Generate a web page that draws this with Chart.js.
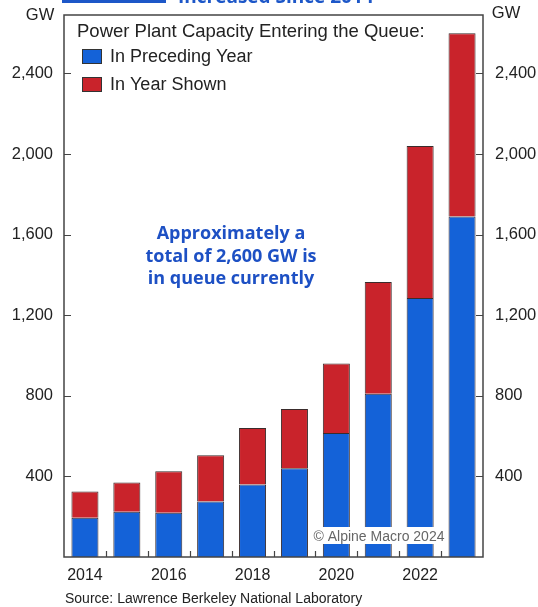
<!DOCTYPE html>
<html>
<head>
<meta charset="utf-8">
<script src="https://cdn.jsdelivr.net/npm/chart.js@4/dist/chart.umd.min.js"></script>
<style>
  html, body { margin: 0; padding: 0; background: #fff; }
  #wrap { position: relative; width: 538px; height: 607px; }
</style>
</head>
<body>
<div id="wrap"><canvas id="queue"></canvas></div>
<script>
// Power plant capacity in the interconnection queue, GW
const years = ['2014', '2015', '2016', '2017', '2018', '2019', '2020', '2021', '2022', '2023'];
const precedingYear = [195, 225, 220, 275, 360, 440, 615, 810, 1285, 1690];
const yearShown = [130, 145, 205, 230, 280, 295, 345, 555, 755, 910];
const gwTicks = [400, 800, 1200, 1600, 2000, 2400];

const c1 = '#1462d8';
const c2 = '#c9232b';
const ink = '#222';
const axisFont = { family: 'Liberation Sans, Arial, sans-serif', size: 16.5 };

// frame, inward tick marks, legend and notes drawn straight on the canvas
const extras = {
  id: 'extras',
  afterDatasetsDraw(chart) {
    const { ctx, chartArea: a, scales } = chart;
    const y = scales.y;
    const x = scales.x;
    ctx.save();

    // copyright tag sits on top of the bars
    ctx.fillStyle = '#fff';
    ctx.fillRect(312, a.bottom - 30, 134, 17);
    ctx.fillStyle = '#666';
    ctx.font = '14px Liberation Sans, Arial, sans-serif';
    ctx.textAlign = 'center';
    ctx.textBaseline = 'middle';
    ctx.fillText('\u00A9 Alpine Macro 2024', 379, a.bottom - 20);

    // plot frame
    ctx.strokeStyle = '#444';
    ctx.lineWidth = 1.5;
    ctx.strokeRect(a.left, a.top, a.right - a.left, a.bottom - a.top);

    // y ticks pointing into the plot on both sides
    ctx.lineWidth = 1.2;
    ctx.beginPath();
    gwTicks.forEach(v => {
      const py = Math.round(y.getPixelForValue(v)) + 0.5;
      ctx.moveTo(a.left, py); ctx.lineTo(a.left + 7, py);
      ctx.moveTo(a.right, py); ctx.lineTo(a.right - 7, py);
    });
    // x ticks between the bars
    for (let i = 1; i < years.length; i++) {
      const px = Math.round((x.getPixelForValue(i - 1) + x.getPixelForValue(i)) / 2) + 0.5;
      ctx.moveTo(px, a.bottom); ctx.lineTo(px, a.bottom - 6);
    }
    ctx.stroke();

    // legend
    ctx.textAlign = 'left';
    ctx.fillStyle = ink;
    ctx.font = '18.5px Liberation Sans, Arial, sans-serif';
    ctx.fillText('Power Plant Capacity Entering the Queue:', 77, 32);
    ctx.font = '18px Liberation Sans, Arial, sans-serif';
    const keys = [
      { label: 'In Preceding Year', color: c1, top: 49 },
      { label: 'In Year Shown', color: c2, top: 77 },
    ];
    keys.forEach(k => {
      ctx.fillStyle = k.color;
      ctx.fillRect(82, k.top, 20, 15);
      ctx.strokeStyle = '#333';
      ctx.lineWidth = 1;
      ctx.strokeRect(82.5, k.top + 0.5, 19, 14);
      ctx.fillStyle = ink;
      ctx.fillText(k.label, 110, k.top + 8);
    });

    // callout
    ctx.fillStyle = '#1d50c4';
    ctx.font = 'bold 18px Open Sans, sans-serif';
    ctx.textAlign = 'center';
    ['Approximately a', 'total of 2,600 GW is', 'in queue currently'].forEach((t, i) => {
      ctx.fillText(t, 231, 234 + i * 22.5);
    });

    // units
    ctx.fillStyle = ink;
    ctx.font = '16.5px Liberation Sans, Arial, sans-serif';
    ctx.fillText('GW', 40, 15);
    ctx.fillText('GW', 506, 13);

    // header strip cut off at the top edge
    ctx.fillStyle = '#1d57c8';
    ctx.fillRect(62, 0, 104, 3);
    ctx.font = 'bold 19px Open Sans, sans-serif';
    ctx.textAlign = 'left';
    ctx.textBaseline = 'alphabetic';
    ctx.fillText('Increased Since 2014', 178, 3);

    // source line
    ctx.fillStyle = ink;
    ctx.font = '14px Liberation Sans, Arial, sans-serif';
    ctx.textBaseline = 'middle';
    ctx.fillText('Source: Lawrence Berkeley National Laboratory', 65, 599);

    ctx.restore();
  }
};

const data = {
  labels: years,
  datasets: [
    { label: 'In Preceding Year', data: precedingYear, backgroundColor: c1 },
    { label: 'In Year Shown', data: yearShown, backgroundColor: c2 },
  ],
};

const gwLabel = v => v.toLocaleString('en-US');

// fixed gutters so the plot box lands where it should
const fitY = w => s => {
  s.width = w;
  s.paddingTop = 0;
  s.paddingBottom = 0;
};

const options = {
  responsive: true,
  maintainAspectRatio: false,
  animation: false,
  layout: { padding: { top: 15, bottom: 0, left: 0, right: 0 } },
  datasets: {
    bar: {
      categoryPercentage: 1,
      barPercentage: 0.645,
      borderWidth: 1,
      borderColor: '#3a2c2c',
    },
  },
  plugins: {
    legend: { display: false },
    tooltip: { enabled: false },
  },
  scales: {
    x: {
      stacked: true,
      grid: { display: false, drawTicks: false },
      border: { display: false },
      ticks: {
        color: ink,
        font: { ...axisFont, size: 16 },
        padding: 9,
        maxRotation: 0,
        autoSkip: false,
        callback: (v, i) => (i % 2 === 0 ? years[i] : ''),
      },
      afterFit: s => {
        s.height = 50;
        s.paddingLeft = 0;
        s.paddingRight = 0;
      },
    },
    y: {
      stacked: true,
      position: 'left',
      min: 0,
      max: 2690,
      grid: { display: false, drawTicks: false },
      border: { display: false },
      ticks: { color: ink, font: axisFont, padding: 11, callback: gwLabel },
      afterBuildTicks: s => { s.ticks = gwTicks.map(v => ({ value: v })); },
      afterFit: fitY(64),
    },
    y2: {
      position: 'right',
      min: 0,
      max: 2690,
      grid: { display: false, drawTicks: false },
      border: { display: false },
      ticks: { color: ink, font: axisFont, padding: 12, callback: gwLabel },
      afterBuildTicks: s => { s.ticks = gwTicks.map(v => ({ value: v })); },
      afterFit: fitY(55),
    },
  },
};

new Chart(document.getElementById('queue'), {
  type: 'bar',
  data,
  options,
  plugins: [extras],
});
</script>
</body>
</html>
